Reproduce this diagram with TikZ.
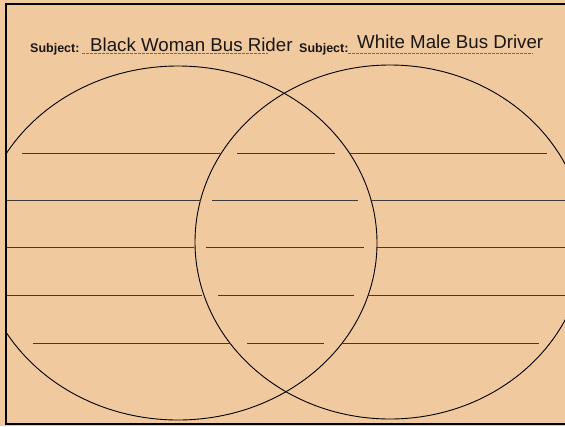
\documentclass[tikz,border=0pt]{standalone}
\usepackage{fontspec}
\setmainfont{Liberation Sans}
\definecolor{paper}{RGB}{240,201,158}
\definecolor{rulegray}{RGB}{62,58,54}
\definecolor{dashgray}{RGB}{120,105,90}
\definecolor{ink}{RGB}{25,22,20}
\begin{document}
\begin{tikzpicture}[x=1pt,y=-1pt,
  wline/.style={draw=rulegray, line width=1pt},
  ring/.style={draw=black, line width=0.9pt},
  subj/.style={anchor=base west, inner sep=0pt, text=ink, font=\bfseries\fontsize{12.5}{14}\selectfont},
  title/.style={anchor=base west, inner sep=0pt, text=ink, font=\fontsize{18.7}{21}\selectfont},
  uline/.style={draw=dashgray, line width=0.6pt, dash pattern=on 3pt off 1pt}]
\useasboundingbox (0,0) rectangle (565,426);
\fill[paper] (0,0) rectangle (565,426);
% circles
\begin{scope}
  \clip (6,4) rectangle (565,424);
  \draw[ring] (178,243) ellipse [x radius=199pt, y radius=177pt];
  \draw[ring] (390,242) ellipse [x radius=195pt, y radius=177pt];
\end{scope}
% frame
\draw[black, line width=1.6pt] (565,4) -- (6,4) -- (6,424) -- (565,424);
% header
\node[subj] (s1) at (30,52) {Subject:};
\node[title] (t1) at (90,51) {Black Woman Bus Rider};
\draw[uline] (82,53.5) -- (268,53.5);
\node[subj] (s2) at (299,52) {Subject:};
\node[title] (t2) at (357,48.5) {White Male Bus Driver};
\draw[uline] (348,53) -- (533,53);
% writing lines
\draw[wline] (22,153) -- (222,153);
\draw[wline] (237,153) -- (335,153);
\draw[wline] (350,153) -- (547,153);
\draw[wline] (7,200) -- (201,200);
\draw[wline] (212,200) -- (358,200);
\draw[wline] (372,200) -- (565,200);
\draw[wline] (7,247) -- (194,247);
\draw[wline] (206,247) -- (364,247);
\draw[wline] (377,247) -- (565,247);
\draw[wline] (7,295) -- (202,295);
\draw[wline] (218,295) -- (354,295);
\draw[wline] (368,295) -- (565,295);
\draw[wline] (33,343) -- (231,343);
\draw[wline] (247,343) -- (324,343);
\draw[wline] (341,343) -- (539,343);
\end{tikzpicture}
\end{document}
